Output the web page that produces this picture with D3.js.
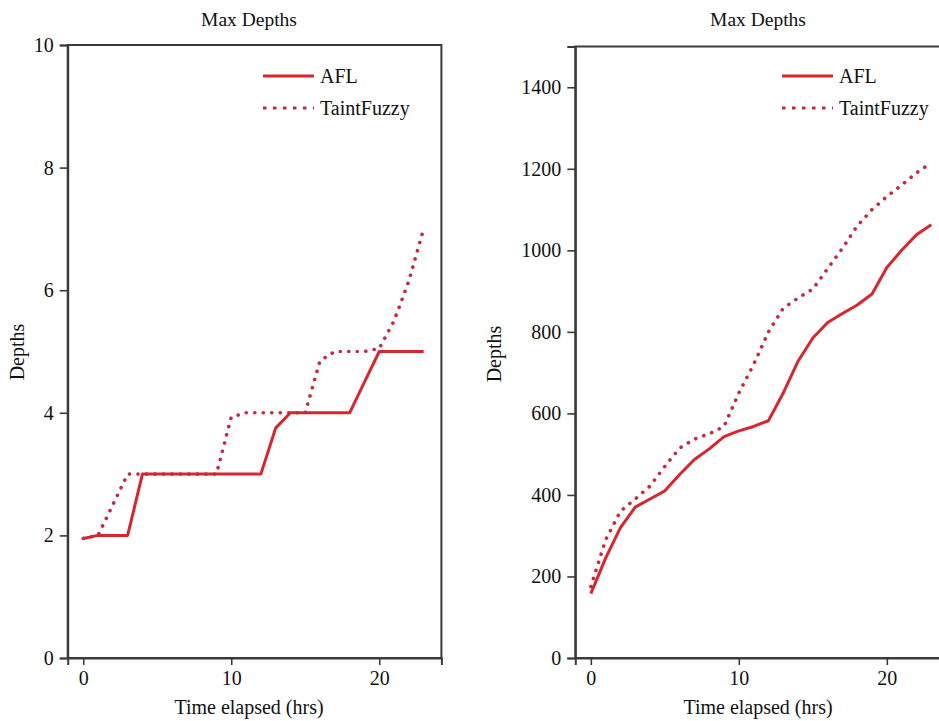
<!DOCTYPE html>
<html>
<head>
<meta charset="utf-8">
<script src="https://cdn.jsdelivr.net/npm/d3@7"></script>
<style>
  html, body { margin: 0; padding: 0; background: #fff; }
  svg { display: block; }
  text { font-family: "Liberation Serif", "Times New Roman", serif; fill: #111; }
</style>
</head>
<body>
<svg id="chart" width="939" height="721"></svg>
<script>
// ---- data ----
const hours = d3.range(0, 24); // 0..23 hrs
const leftAFL =        [1.95, 2, 2, 2, 3, 3, 3, 3, 3, 3, 3, 3, 3, 3.75, 4, 4, 4, 4, 4, 4.5, 5, 5, 5, 5];
const leftTaintFuzzy = [1.95, 2, 2.5, 3, 3, 3, 3, 3, 3, 3, 3.93, 4, 4, 4, 4, 4, 4.85, 5, 5, 5, 5.05, 5.5, 6.15, 7.0];
const rightAFL =        [158, 245, 320, 370, 390, 410, 450, 487, 513, 543, 557, 568, 582, 650, 728, 785, 823, 845, 866, 893, 958, 1000, 1038, 1063];
const rightTaintFuzzy = [175, 290, 360, 390, 422, 470, 515, 537, 550, 568, 650, 720, 800, 858, 883, 905, 955, 1005, 1060, 1100, 1132, 1160, 1190, 1215];
const xTicks = [0, 10, 20];
const leftYTicks = [0, 2, 4, 6, 8, 10];
const rightYTicks = [0, 200, 400, 600, 800, 1000, 1200, 1400];
const seriesNames = ["AFL", "TaintFuzzy"];
const titleText = "Max Depths";
const xLabel = "Time elapsed (hrs)";
const yLabel = "Depths";

// ---- styles ----
const solidColor = "#d8262f";
const dotColor = "#c42a3e";
const axisColor = "#3a3a3a";
const fontSize = 20;

const svg = d3.select("#chart");

function panel(cfg) {
  const g = svg.append("g");
  const x = d3.scaleLinear().domain([-1.05, 24.2]).range([cfg.x0, cfg.x0 + 373.7]);
  const y = d3.scaleLinear().domain(cfg.yDomain).range([658, cfg.yTop]);

  // frame (top & right spines)
  g.append("rect")
    .attr("x", x.range()[0]).attr("y", y.range()[1])
    .attr("width", x.range()[1] - x.range()[0])
    .attr("height", y.range()[0] - y.range()[1])
    .attr("fill", "none").attr("stroke", axisColor).attr("stroke-width", 2);

  // x axis
  const xa = g.append("g").attr("transform", `translate(0,${y.range()[0]})`)
    .call(d3.axisBottom(x).tickValues(xTicks).tickSize(7).tickPadding(6).tickFormat(d3.format("d")));
  xa.select(".domain").attr("stroke", axisColor).attr("stroke-width", 2);
  xa.selectAll(".tick line").attr("stroke", axisColor).attr("stroke-width", 1.6);
  xa.selectAll(".tick text").attr("font-size", fontSize).attr("font-family", "Liberation Serif").attr("fill", "#111");

  // y axis
  const ya = g.append("g").attr("transform", `translate(${x.range()[0]},0)`)
    .call(d3.axisLeft(y).tickValues(cfg.yTicks).tickSize(8).tickPadding(6).tickFormat(d3.format("d")));
  ya.select(".domain").attr("stroke", axisColor).attr("stroke-width", 2);
  ya.selectAll(".tick line").attr("stroke", axisColor).attr("stroke-width", 1.6);
  ya.selectAll(".tick text").attr("font-size", fontSize).attr("font-family", "Liberation Serif").attr("fill", "#111");

  // title
  g.append("text").attr("x", cfg.titleX).attr("y", 26)
    .attr("text-anchor", "middle").attr("font-size", fontSize - 0.5).text(titleText);
  // x label
  g.append("text").attr("x", cfg.titleX).attr("y", 714)
    .attr("text-anchor", "middle").attr("font-size", fontSize).text(xLabel);
  // y label
  g.append("text")
    .attr("transform", `translate(${cfg.yLabelX},${cfg.yLabelY}) rotate(-90)`)
    .attr("text-anchor", "middle").attr("font-size", fontSize).text(yLabel);

  const line = d3.line().x((d, i) => x(hours[i])).y(d => y(d));

  g.append("path").datum(cfg.afl)
    .attr("d", line).attr("fill", "none")
    .attr("stroke", solidColor).attr("stroke-width", 3)
    .attr("stroke-linejoin", "round");

  g.append("path").datum(cfg.tf)
    .attr("d", line).attr("fill", "none")
    .attr("stroke", dotColor).attr("stroke-width", 3.6)
    .attr("stroke-linecap", "round")
    .attr("stroke-dasharray", "0.1 8.4");

  // legend
  const lx = cfg.legendX;
  seriesNames.forEach((name, i) => {
    const ly = 76 + i * 32;
    const l = g.append("line")
      .attr("x1", lx).attr("x2", lx + 51).attr("y1", ly).attr("y2", ly)
      .attr("stroke", i === 0 ? solidColor : dotColor);
    if (i === 0) l.attr("stroke-width", 3);
    else l.attr("stroke-width", 3).attr("stroke-dasharray", "3.5 6.5");
    g.append("text").attr("x", lx + 57).attr("y", ly + 7)
      .attr("font-size", fontSize).text(name);
  });
}

panel({
  x0: 67.7, yDomain: [0, 10], yTop: 45, yTicks: leftYTicks,
  afl: leftAFL, tf: leftTaintFuzzy,
  titleX: 249, yLabelX: 24, yLabelY: 352, legendX: 263
});
panel({
  x0: 575.3, yDomain: [0, 1500], yTop: 46.5, yTicks: rightYTicks,
  afl: rightAFL, tf: rightTaintFuzzy,
  titleX: 758, yLabelX: 501, yLabelY: 354, legendX: 782
});
</script>
</body>
</html>
